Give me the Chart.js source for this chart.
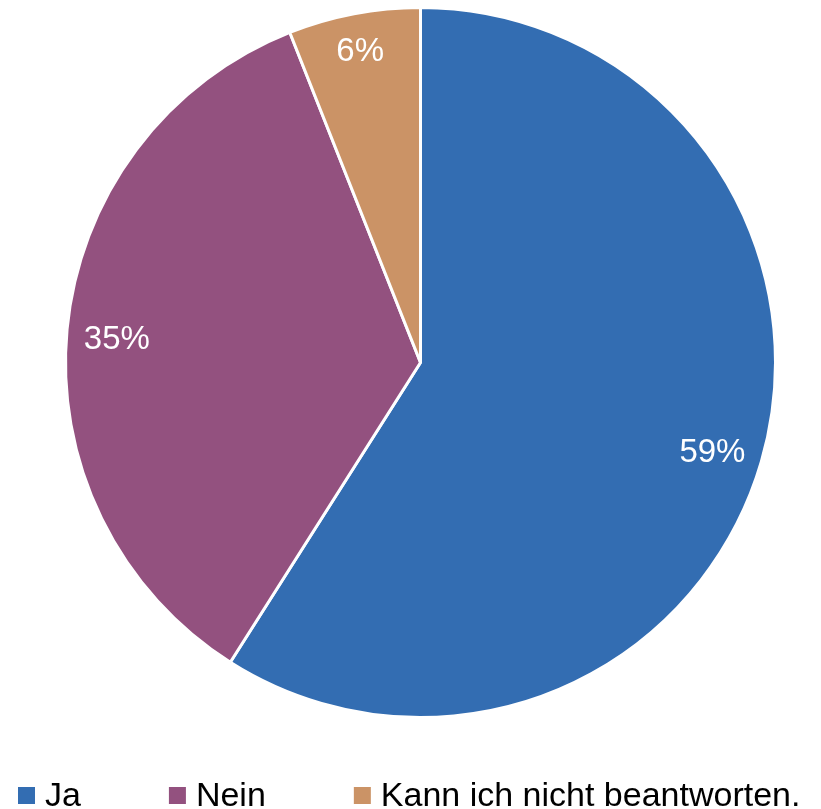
<!DOCTYPE html>
<html>
<head>
<meta charset="utf-8">
<script src="https://cdn.jsdelivr.net/npm/chart.js@4.4.0/dist/chart.umd.min.js"></script>
<style>
  body { margin: 0; background: #fff; }
  canvas { display: block; }
</style>
</head>
<body>
<canvas id="pie" width="821" height="809"></canvas>
<script>
const labels = ['Ja', 'Nein', 'Kann ich nicht beantworten.'];
const values = [59, 35, 6];
const colors = ['#336DB2', '#93517F', '#CB9366'];

const FONT = '"Liberation Sans", Arial, sans-serif';

// percent labels placed inside the outer edge, like Excel's "inside end"
const sliceLabels = {
  id: 'sliceLabels',
  afterDatasetsDraw(chart) {
    const ctx = chart.ctx;
    const arcs = chart.getDatasetMeta(0).data;
    const total = values.reduce((a, b) => a + b, 0);
    ctx.save();
    ctx.font = '33px ' + FONT;
    ctx.fillStyle = '#fff';
    ctx.textAlign = 'center';
    ctx.textBaseline = 'middle';
    arcs.forEach((arc, i) => {
      const p = arc.getProps(['x', 'y', 'startAngle', 'endAngle', 'outerRadius']);
      const mid = (p.startAngle + p.endAngle) / 2;
      const txt = Math.round(values[i] / total * 100) + '%';
      const w = ctx.measureText(txt).width / 2;
      const h = 13;
      const dx = Math.cos(mid), dy = Math.sin(mid);
      const limit = p.outerRadius - 16;
      let d = 0;
      while (d < p.outerRadius) {
        const cx = dx * d + Math.sign(dx) * w;
        const cy = dy * d + Math.sign(dy) * h;
        if (Math.hypot(cx, cy) > limit) break;
        d += 1;
      }
      ctx.fillText(txt, p.x + dx * d, p.y + dy * d + 6);
    });
    ctx.restore();
  }
};

// legend row at the bottom
const bottomLegend = {
  id: 'bottomLegend',
  afterDraw(chart) {
    const ctx = chart.ctx;
    ctx.save();
    ctx.font = '34px ' + FONT;
    ctx.textBaseline = 'alphabetic';
    let x = 18;
    labels.forEach((lab, i) => {
      ctx.fillStyle = colors[i];
      ctx.fillRect(x, 787, 17, 17);
      ctx.fillStyle = '#000';
      ctx.fillText(lab, x + 27, 806);
      x += 27 + ctx.measureText(lab).width + 88;
    });
    ctx.restore();
  }
};

new Chart(document.getElementById('pie'), {
  type: 'pie',
  data: {
    labels: labels,
    datasets: [{
      data: values,
      backgroundColor: colors,
      borderColor: '#fff',
      borderWidth: 3
    }]
  },
  options: {
    responsive: false,
    animation: false,
    devicePixelRatio: 1,
    layout: { padding: { top: 6, bottom: 90, left: 20, right: 0 } },
    plugins: {
      legend: { display: false },
      tooltip: { enabled: false }
    }
  },
  plugins: [sliceLabels, bottomLegend]
});
</script>
</body>
</html>
